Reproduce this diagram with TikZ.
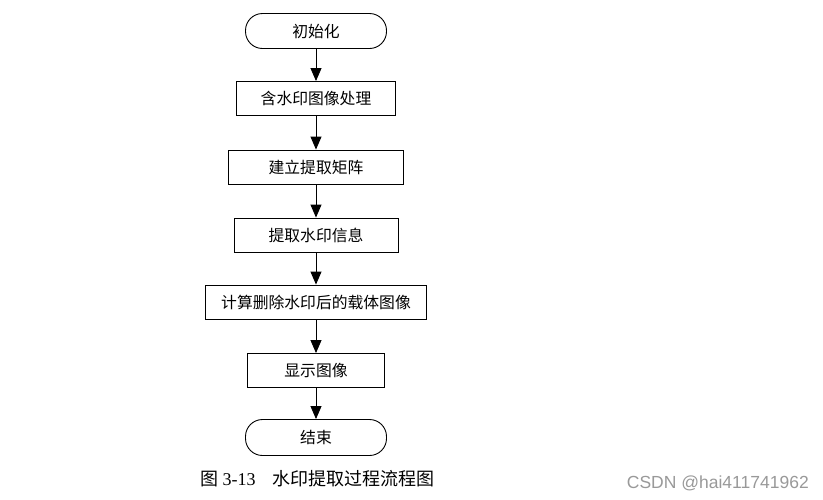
\documentclass[tikz,border=0pt]{standalone}
\usepackage{fontspec}
\setmainfont{Liberation Serif}
\newfontfamily\cjk{Noto Sans CJK SC}
\newfontfamily\wm{Liberation Sans}
\usetikzlibrary{arrows.meta}
\begin{document}
\begin{tikzpicture}[x=1pt,y=-1pt,
  box/.style={draw=black,line width=0.9pt,rectangle,minimum height=34pt,inner sep=0pt,font=\cjk\fontsize{15.8}{15.8}\selectfont},
  arr/.style={draw=black,line width=0.9pt,-{Triangle[length=13pt,width=11pt]}}]
\useasboundingbox[fill=white] (0,0) rectangle (823,499);
\node[box,minimum width=141pt,minimum height=35pt,rounded corners=17pt] (start) at (316,31) {初始化};
\node[box,minimum width=159pt] (n1) at (316,98.5) {含水印图像处理};
\node[box,minimum width=175pt] (n2) at (316,167) {建立提取矩阵};
\node[box,minimum width=164pt] (n3) at (316,235) {提取水印信息};
\node[box,minimum width=221pt] (n4) at (316,302) {计算删除水印后的载体图像};
\node[box,minimum width=137pt] (n5) at (316,370.5) {显示图像};
\node[box,minimum width=141pt,minimum height=36pt,rounded corners=17pt] (end) at (316,437.5) {结束};
\draw[arr] (start) -- (n1);
\draw[arr] (n1) -- (n2);
\draw[arr] (n2) -- (n3);
\draw[arr] (n3) -- (n4);
\draw[arr] (n4) -- (n5);
\draw[arr] (n5) -- (end);
\node[anchor=west,inner sep=0pt,font=\fontsize{18}{18}\selectfont] (cap) at (200,479) {{\cjk 图} 3-13\hspace{17pt}{\cjk 水印提取过程流程图}};
\node[anchor=east,inner sep=0pt,text=black!40,font=\wm\fontsize{17.5}{17.5}\selectfont] (wmk) at (809,483) {CSDN @hai411741962};
\end{tikzpicture}
\end{document}
